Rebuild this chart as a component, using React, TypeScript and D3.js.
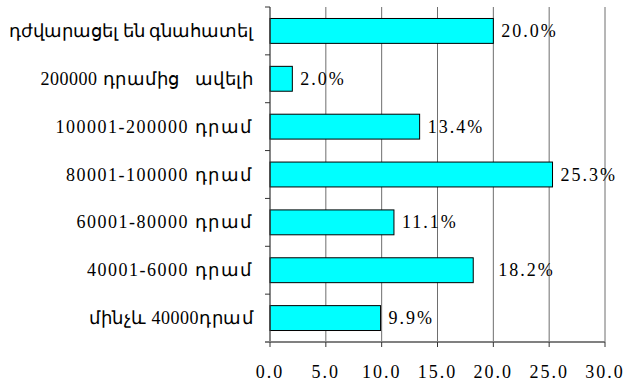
import React from "react";
import * as d3 from "d3";

const categories = [
  "դժվարացել են գնահատել",
  "200000 դրամից   ավելի",
  "100001-200000 դրամ",
  "80001-100000 դրամ",
  "60001-80000 դրամ",
  "40001-6000 դրամ",
  "մինչև 40000դրամ",
];
const values = [20.0, 2.0, 13.4, 25.3, 11.1, 18.2, 9.9];
const xTicks = [0, 5, 10, 15, 20, 25, 30];

const W = 631;
const H = 385;
const FONT = '"Liberation Serif", "Times New Roman", serif';

export default function App() {
  const x = d3.scaleLinear().domain([0, 30]).range([270, 605]);
  const y = d3
    .scaleBand<string>()
    .domain(categories)
    .range([7, 342])
    .paddingInner(0.48)
    .paddingOuter(0.24);
  const step = y.step();
  const [top, bottom] = y.range();
  const labelShift = (i: number) => (i === 5 ? 25 : 8);
  const txt = { fontFamily: FONT, whiteSpace: "pre" as const };
  // Armenian glyphs fall back to a wider sans font; tighten spacing for text-heavy labels
  const catSpacing = (i: number) => (i === 0 ? 0 : i === 1 || i === 6 ? 0.5 : 1.5);

  return (
    <svg
      width={W}
      height={H}
      style={{ position: "absolute", left: 0, top: 0, background: "#fff" }}
    >
      {xTicks.slice(1).map((t) => (
        <line key={"g" + t} x1={x(t)} x2={x(t)} y1={top} y2={bottom} stroke="#6e6e6e" strokeWidth={1} />
      ))}
      {categories.map((c, i) => (
        <rect
          key={c}
          x={x(0)}
          y={y(c)!}
          width={x(values[i]) - x(0)}
          height={y.bandwidth()}
          fill="#00FFFF"
          stroke="#000"
          strokeWidth={1}
        />
      ))}
      <line x1={x(0)} x2={x(0)} y1={top} y2={bottom} stroke="#333" strokeWidth={1.2} />
      {d3.range(categories.length + 1).map((k) => (
        <line key={"lt" + k} x1={x(0) - 5} x2={x(0)} y1={top + k * step} y2={top + k * step} stroke="#333" strokeWidth={1} />
      ))}
      <line x1={x(0) - 5} x2={x(30)} y1={bottom} y2={bottom} stroke="#808080" strokeWidth={2} />
      {xTicks.map((t) => (
        <line key={"bt" + t} x1={x(t)} x2={x(t)} y1={bottom} y2={bottom + 5} stroke="#333" strokeWidth={1} />
      ))}
      {xTicks.map((t) => (
        <text
          key={"bl" + t}
          x={x(t)}
          y={378}
          textAnchor="middle"
          fontSize={18}
          letterSpacing={2}
          fill="#000"
          style={txt}
        >
          {d3.format(".1f")(t)}
        </text>
      ))}
      {categories.map((c, i) => (
        <text
          key={"cl" + c}
          x={253}
          y={y(c)! + y.bandwidth() / 2 + 6}
          textAnchor="end"
          fontSize={18}
          letterSpacing={catSpacing(i)}
          fill="#000"
          style={txt}
        >
          {c}
        </text>
      ))}
      {categories.map((c, i) => (
        <text
          key={"vl" + c}
          x={x(values[i]) + labelShift(i)}
          y={y(c)! + y.bandwidth() / 2 + 6}
          textAnchor="start"
          fontSize={18}
          letterSpacing={2}
          fill="#000"
          style={txt}
        >
          {d3.format(".1f")(values[i]) + "%"}
        </text>
      ))}
    </svg>
  );
}
